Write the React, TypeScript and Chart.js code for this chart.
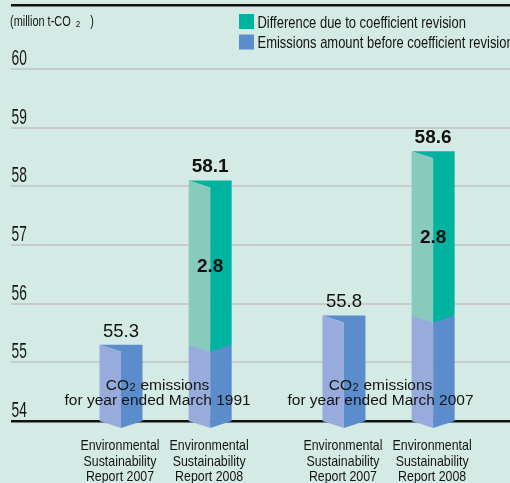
import { useEffect, useRef } from 'react';
import { Chart, registerables } from 'chart.js';

Chart.register(...registerables);

// ---- data ----
const categories: string[][] = [
  ['Environmental', 'Sustainability', 'Report 2007'],
  ['Environmental', 'Sustainability', 'Report 2008'],
  ['Environmental', 'Sustainability', 'Report 2007'],
  ['Environmental', 'Sustainability', 'Report 2008'],
];
// slot of each category on an 11-slot category axis (gaps separate the two groups)
const slotIndex = [2, 4, 7, 9];
const slotCount = 11;
const beforeRevision = [55.3, 55.3, 55.8, 55.8];
const difference: (number | null)[] = [null, 2.8, null, 2.8];
const groupTitles = ['for year ended March 1991', 'for year ended March 2007'];
const groupPrefix = ['CO', '2', ' emissions'];
const seriesNames = ['Emissions amount before coefficient revision', 'Difference due to coefficient revision'];
const unitLabel = ['(million t-CO', '2', ')'];

// ---- styles ----
const BG = '#d4eae4';
const BLUE_DARK = '#5b8ccc';
const BLUE_LIGHT = '#97acdc';
const GREEN_DARK = '#00b3a0';
const GREEN_LIGHT = '#88cbbd';
const GRID = '#c6cccb';
const INK = '#141414';
const SANS = '"Liberation Sans", Arial, sans-serif';

function toSlots(values: (number | null)[]) {
  const out: (number | null)[] = new Array(slotCount).fill(null);
  slotIndex.forEach((s, i) => (out[s] = values[i]));
  return out;
}

// draws text horizontally condensed (the original uses a condensed grotesque)
function narrowText(ctx: CanvasRenderingContext2D, text: string, x: number, y: number, size: number, sx: number, align: 'left' | 'center' | 'right', weight = '') {
  ctx.save();
  ctx.font = `${weight} ${size}px ${SANS}`;
  ctx.textBaseline = 'alphabetic';
  ctx.textAlign = 'left';
  const w = ctx.measureText(text).width * sx;
  const left = align === 'center' ? x - w / 2 : align === 'right' ? x - w : x;
  ctx.translate(left, y);
  ctx.scale(sx, 1);
  ctx.fillText(text, 0, 0);
  ctx.restore();
  return w;
}

function drawPrism(ctx: CanvasRenderingContext2D, xl: number, xr: number, top: number, bottom: number, d: number, light: string, dark: string) {
  const xc = (xl + xr) / 2;
  ctx.fillStyle = dark;
  ctx.beginPath();
  ctx.moveTo(xl, top);
  ctx.lineTo(xr, top);
  ctx.lineTo(xr, bottom);
  ctx.lineTo(xc, bottom + d);
  ctx.lineTo(xc, top + d);
  ctx.closePath();
  ctx.fill();
  ctx.fillStyle = light;
  ctx.beginPath();
  ctx.moveTo(xl, top);
  ctx.lineTo(xc, top + d);
  ctx.lineTo(xc, bottom + d);
  ctx.lineTo(xl, bottom);
  ctx.closePath();
  ctx.fill();
}

function drawSubText(ctx: CanvasRenderingContext2D, parts: string[], x: number, y: number, font: string, subFont: string) {
  ctx.textBaseline = 'alphabetic';
  ctx.textAlign = 'left';
  ctx.font = font;
  const w0 = ctx.measureText(parts[0]).width;
  const w2 = ctx.measureText(parts[2]).width;
  ctx.font = subFont;
  const w1 = ctx.measureText(parts[1]).width;
  let sx = x - (w0 + w1 + 1 + w2) / 2;
  ctx.font = font;
  ctx.fillText(parts[0], sx, y);
  sx += w0 + 0.5;
  ctx.font = subFont;
  ctx.fillText(parts[1], sx, y + 1);
  sx += w1 + 0.5;
  ctx.font = font;
  ctx.fillText(parts[2], sx, y);
}

const prismPlugin = {
  id: 'prismPlugin',
  beforeDatasetsDraw(chart: any) {
    const ctx: CanvasRenderingContext2D = chart.ctx;
    const y = chart.scales.y;
    const W = chart.width;
    ctx.save();
    // top rule
    ctx.fillStyle = '#111';
    ctx.fillRect(11, 4, W - 11, 2.5);
    // grid lines + tick labels (from the y scale's own ticks)
    y.ticks.forEach((t: any) => {
      const py = Math.round(y.getPixelForValue(t.value));
      if (t.value === y.min) {
        ctx.fillStyle = '#111';
        ctx.fillRect(11, py - 1, W - 11, 2.5);
      } else {
        ctx.fillStyle = GRID;
        ctx.fillRect(11, py - 1, W - 11, 2);
      }
      ctx.fillStyle = INK;
      narrowText(ctx, String(t.value), 11.5, py - 4, 21.5, 0.64, 'left');
    });
    ctx.restore();
  },
  afterDatasetsDraw(chart: any) {
    const ctx: CanvasRenderingContext2D = chart.ctx;
    const yScale = chart.scales.y;
    const xScale = chart.scales.x;
    const floor = yScale.getPixelForValue(yScale.min);
    const d = 7;
    const colors = [
      [BLUE_LIGHT, BLUE_DARK],
      [GREEN_LIGHT, GREEN_DARK],
    ];
    ctx.save();
    chart.data.datasets.forEach((ds: any, di: number) => {
      const meta = chart.getDatasetMeta(di);
      meta.data.forEach((el: any, idx: number) => {
        if (ds.data[idx] == null) return;
        const p = el.getProps(['x', 'y', 'base', 'width'], true);
        const bottom = Math.min(p.base, floor);
        drawPrism(ctx, p.x - p.width / 2, p.x + p.width / 2, p.y, bottom, d, colors[di][0], colors[di][1]);
      });
    });
    // value labels
    ctx.fillStyle = '#111';
    ctx.textAlign = 'center';
    ctx.textBaseline = 'middle';
    slotIndex.forEach((s, i) => {
      const blueEl = chart.getDatasetMeta(0).data[s].getProps(['x', 'y'], true);
      const diff = difference[i];
      if (diff != null) {
        const gEl = chart.getDatasetMeta(1).data[s].getProps(['x', 'y', 'base'], true);
        const total = Math.round((beforeRevision[i] + diff) * 10) / 10;
        ctx.font = `bold 19px ${SANS}`;
        ctx.fillText(total.toFixed(1), gEl.x, gEl.y - 13.5);
        ctx.fillText(diff.toFixed(1), gEl.x, (gEl.y + gEl.base) / 2 + 4);
      } else {
        ctx.font = `18.5px ${SANS}`;
        ctx.fillText(beforeRevision[i].toFixed(1), blueEl.x, blueEl.y - 13);
      }
    });
    // group labels
    ctx.fillStyle = INK;
    for (let g = 0; g < 2; g++) {
      const cx = (xScale.getPixelForValue(slotIndex[g * 2]) + xScale.getPixelForValue(slotIndex[g * 2 + 1])) / 2 - 8;
      drawSubText(ctx, groupPrefix, cx, floor - 31, `15.5px ${SANS}`, `11px ${SANS}`);
      ctx.font = `15.5px ${SANS}`;
      ctx.textAlign = 'center';
      ctx.textBaseline = 'alphabetic';
      ctx.fillText(groupTitles[g], cx, floor - 16);
    }
    // category labels (from the x scale's positions)
    slotIndex.forEach((s, i) => {
      const cx = xScale.getPixelForValue(s) - 1;
      categories[i].forEach((line, li) => {
        narrowText(ctx, line, cx, floor + 29 + li * 15.7, 15, 0.825, 'center');
      });
    });
    ctx.restore();
  },
  afterDraw(chart: any) {
    const ctx: CanvasRenderingContext2D = chart.ctx;
    ctx.save();
    ctx.fillStyle = INK;
    // unit label with subscript
    const w0 = narrowText(ctx, unitLabel[0], 10, 26, 14, 0.78, 'left');
    const w1 = narrowText(ctx, unitLabel[1], 10 + w0 + 5, 27, 9.5, 0.85, 'left');
    narrowText(ctx, unitLabel[2], 10 + w0 + 5 + w1 + 10, 26, 14, 0.78, 'left');
    // legend: difference first, then base emissions
    const legend = [
      [seriesNames[1], GREEN_DARK],
      [seriesNames[0], BLUE_DARK],
    ];
    legend.forEach(([text, color], i) => {
      const top = 14 + i * 20.5;
      ctx.fillStyle = color;
      ctx.fillRect(239, top, 15, 15);
      ctx.fillStyle = INK;
      narrowText(ctx, text, 257.5, top + 13.5, 15.7, 0.826, 'left');
    });
    ctx.restore();
  },
};

export default function App() {
  const ref = useRef<HTMLCanvasElement | null>(null);
  useEffect(() => {
    document.body.style.margin = '0';
    const labels = new Array(slotCount).fill('') as any[];
    slotIndex.forEach((s, i) => (labels[s] = categories[i]));
    const chart = new Chart(ref.current as HTMLCanvasElement, {
      type: 'bar',
      data: {
        labels,
        datasets: [
          { label: seriesNames[0], data: toSlots(beforeRevision), backgroundColor: 'rgba(0,0,0,0)', barThickness: 43, stack: 's' },
          { label: seriesNames[1], data: toSlots(difference), backgroundColor: 'rgba(0,0,0,0)', barThickness: 43, stack: 's' },
        ],
      },
      options: {
        animation: false,
        responsive: false,
        devicePixelRatio: 1,
        layout: { padding: { left: 9.5, right: 10, top: 69, bottom: 0 } },
        plugins: { legend: { display: false }, tooltip: { enabled: false } },
        scales: {
          x: {
            stacked: true,
            grid: { display: false, drawTicks: false },
            border: { display: false },
            ticks: { display: false },
            afterFit: (s: any) => {
              s.height = 62;
            },
          },
          y: {
            stacked: true,
            min: 54,
            max: 60,
            grid: { display: false, drawTicks: false },
            border: { display: false },
            ticks: { stepSize: 1, display: false },
            afterFit: (s: any) => {
              s.width = 0;
            },
          },
        },
      },
      plugins: [prismPlugin],
    });
    return () => chart.destroy();
  }, []);
  return (
    <div style={{ width: 510, height: 483, background: BG, overflow: 'hidden' }}>
      <canvas ref={ref} width={510} height={483} style={{ display: 'block' }} />
    </div>
  );
}
